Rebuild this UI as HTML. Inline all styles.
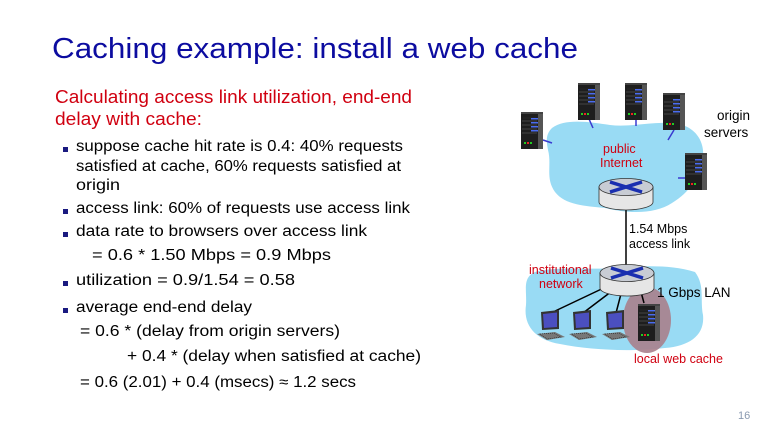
<!DOCTYPE html>
<html><head><meta charset="utf-8"><style>
html,body{margin:0;padding:0;background:#fff;}
svg{display:block;}
</style></head><body>
<svg width="768" height="432" viewBox="0 0 768 432" xmlns="http://www.w3.org/2000/svg" font-family="Liberation Sans, sans-serif">
<defs>
<g id="srv">
<rect x="0" y="0" width="17" height="37" fill="#1e1e1e"/>
<rect x="17" y="1" width="5" height="36" fill="#555"/>
<rect x="0" y="0" width="22" height="2" fill="#444"/>
<rect x="2" y="5" width="13" height="2" fill="#222"/>
<rect x="10" y="6" width="7" height="1.5" fill="#4a6cf0"/>
<rect x="10" y="10" width="7" height="1.5" fill="#4a6cf0"/>
<rect x="10" y="14" width="7" height="1.5" fill="#4a6cf0"/>
<rect x="10" y="18" width="7" height="1.5" fill="#4a6cf0"/>
<line x1="1" y1="9" x2="16" y2="9" stroke="#555" stroke-width="0.7"/>
<line x1="1" y1="13" x2="16" y2="13" stroke="#555" stroke-width="0.7"/>
<line x1="1" y1="17" x2="16" y2="17" stroke="#555" stroke-width="0.7"/>
<line x1="1" y1="21" x2="16" y2="21" stroke="#555" stroke-width="0.7"/>
<rect x="3" y="30" width="2" height="2" fill="#2c2"/>
<rect x="6" y="30" width="2" height="2" fill="#e22"/>
<rect x="9" y="30" width="2" height="2" fill="#2c2"/>
</g>
<g id="rtr">
<path d="M-27 0 L-27 15 A27 8 0 0 0 27 15 L27 0 Z" fill="#e6e6e6" stroke="#333" stroke-width="0.8"/>
<ellipse cx="0" cy="0" rx="27" ry="8.5" fill="#c8ccd4" stroke="#333" stroke-width="0.8"/>
<path d="M-16 -5 L16 5 M16 -5 L-16 5" stroke="#1a2fb0" stroke-width="3.5"/>
</g>
<g id="lap">
<path d="M4 0 L22 -2 L22 17 L5 18 Z" fill="#333"/>
<path d="M6 2 L20 0.5 L20 15 L7 16 Z" fill="#4b4fc0"/>
<path d="M0 22 L18 20 L28 25 L10 28 Z" fill="#777"/>
<path d="M3 22 L17 21 L24 25 L10 27 Z" fill="none" stroke="#222" stroke-width="0.6" stroke-dasharray="1 1"/>
</g>
</defs>

<text x="52" y="58" font-size="29" fill="#0c0ca0" textLength="526" lengthAdjust="spacingAndGlyphs">Caching example: install a web cache</text>

<g fill="#d00010" font-size="18">
<text x="55" y="103" textLength="357" lengthAdjust="spacingAndGlyphs">Calculating access link utilization, end-end</text>
<text x="55" y="125" textLength="147" lengthAdjust="spacingAndGlyphs">delay with cache:</text>
</g>
<g fill="#1a1a80">
<rect x="63" y="147" width="5" height="5"/>
<rect x="63" y="209" width="5" height="5"/>
<rect x="63" y="232" width="5" height="5"/>
<rect x="63" y="281" width="5" height="5"/>
<rect x="63" y="308" width="5" height="5"/>
</g>
<g fill="#000" font-size="15.5">
<text x="76" y="151" textLength="327" lengthAdjust="spacingAndGlyphs">suppose cache hit rate is 0.4:  40% requests</text>
<text x="76" y="171" textLength="325" lengthAdjust="spacingAndGlyphs">satisfied at cache, 60% requests satisfied at</text>
<text x="76" y="190" textLength="44" lengthAdjust="spacingAndGlyphs">origin</text>
<text x="76" y="213" textLength="334" lengthAdjust="spacingAndGlyphs">access link: 60% of requests use access link</text>
<text x="76" y="236" textLength="291" lengthAdjust="spacingAndGlyphs">data rate to browsers over access link</text>
<text x="92" y="260" textLength="239" lengthAdjust="spacingAndGlyphs">= 0.6 * 1.50 Mbps  =  0.9 Mbps</text>
<text x="76" y="285" textLength="219" lengthAdjust="spacingAndGlyphs">utilization = 0.9/1.54 = 0.58</text>
<text x="76" y="312" textLength="176" lengthAdjust="spacingAndGlyphs">average end-end delay</text>
<text x="80" y="336" textLength="260" lengthAdjust="spacingAndGlyphs">= 0.6 * (delay from origin servers)</text>
<text x="127" y="361" textLength="294" lengthAdjust="spacingAndGlyphs">+ 0.4 * (delay when satisfied at cache)</text>
<text x="80" y="387" textLength="276" lengthAdjust="spacingAndGlyphs">= 0.6 (2.01) + 0.4 (msecs) ≈ 1.2 secs</text>
</g>

<!-- public internet cloud -->
<path d="M552 128 C565 118 590 122 610 125 C635 128 660 118 685 126 C700 132 706 148 702 162 C698 178 690 192 672 203 C655 214 630 214 605 208 C585 206 565 205 555 192 C545 178 552 165 548 150 C546 140 546 134 552 128 Z" fill="#99dbf4"/>
<!-- server links -->
<g stroke="#3a3ad0" stroke-width="1.5">
<line x1="543" y1="140" x2="552" y2="143"/>
<line x1="589" y1="119" x2="593" y2="128"/>
<line x1="636" y1="119" x2="636" y2="126"/>
<line x1="674" y1="130" x2="668" y2="140"/>
<line x1="685" y1="178" x2="678" y2="178"/>
</g>
<use href="#srv" x="521" y="112"/>
<use href="#srv" x="578" y="83"/>
<use href="#srv" x="625" y="83"/>
<use href="#srv" x="663" y="93"/>
<use href="#srv" x="685" y="153"/>
<text x="603" y="153" font-size="12.5" fill="#d00010">public</text>
<text x="600" y="167" font-size="12.5" fill="#d00010">Internet</text>
<text x="717" y="120" font-size="13.5" fill="#000">origin</text>
<text x="704" y="137" font-size="13.5" fill="#000">servers</text>

<line x1="626" y1="205" x2="626" y2="268" stroke="#000" stroke-width="1.5"/>
<use href="#rtr" x="626" y="187"/>
<text x="629" y="233" font-size="12.5">1.54 Mbps</text>
<text x="629" y="248" font-size="12.5">access link</text>

<!-- LAN cloud -->
<path d="M535 272 C555 266 590 270 615 268 C640 266 670 264 695 272 C705 285 700 300 703 315 C705 335 690 346 665 348 C630 352 590 350 560 344 C535 340 523 325 526 305 C527 290 522 278 535 272 Z" fill="#99dbf4"/>
<ellipse cx="647" cy="320" rx="24" ry="33" fill="#a97f8c" opacity="0.9"/>
<g stroke="#000" stroke-width="1.5">
<line x1="610" y1="285" x2="553" y2="312"/>
<line x1="616" y1="288" x2="583" y2="313"/>
<line x1="622" y1="290" x2="616" y2="313"/>
<line x1="641" y1="292" x2="644" y2="303"/>
</g>
<use href="#rtr" x="627" y="273"/>
<use href="#lap" x="537" y="312"/>
<use href="#lap" x="569" y="312"/>
<use href="#lap" x="602" y="312"/>
<use href="#srv" x="638" y="304"/>
<text x="529" y="274" font-size="12.5" fill="#d00010">institutional</text>
<text x="539" y="288" font-size="12.5" fill="#d00010">network</text>
<text x="657" y="297" font-size="13.5" fill="#000">1 Gbps LAN</text>
<text x="634" y="363" font-size="12.5" fill="#d00010">local web cache</text>

<text x="738" y="419" font-size="11" fill="#8a9ab0">16</text>
</svg>
</body></html>
